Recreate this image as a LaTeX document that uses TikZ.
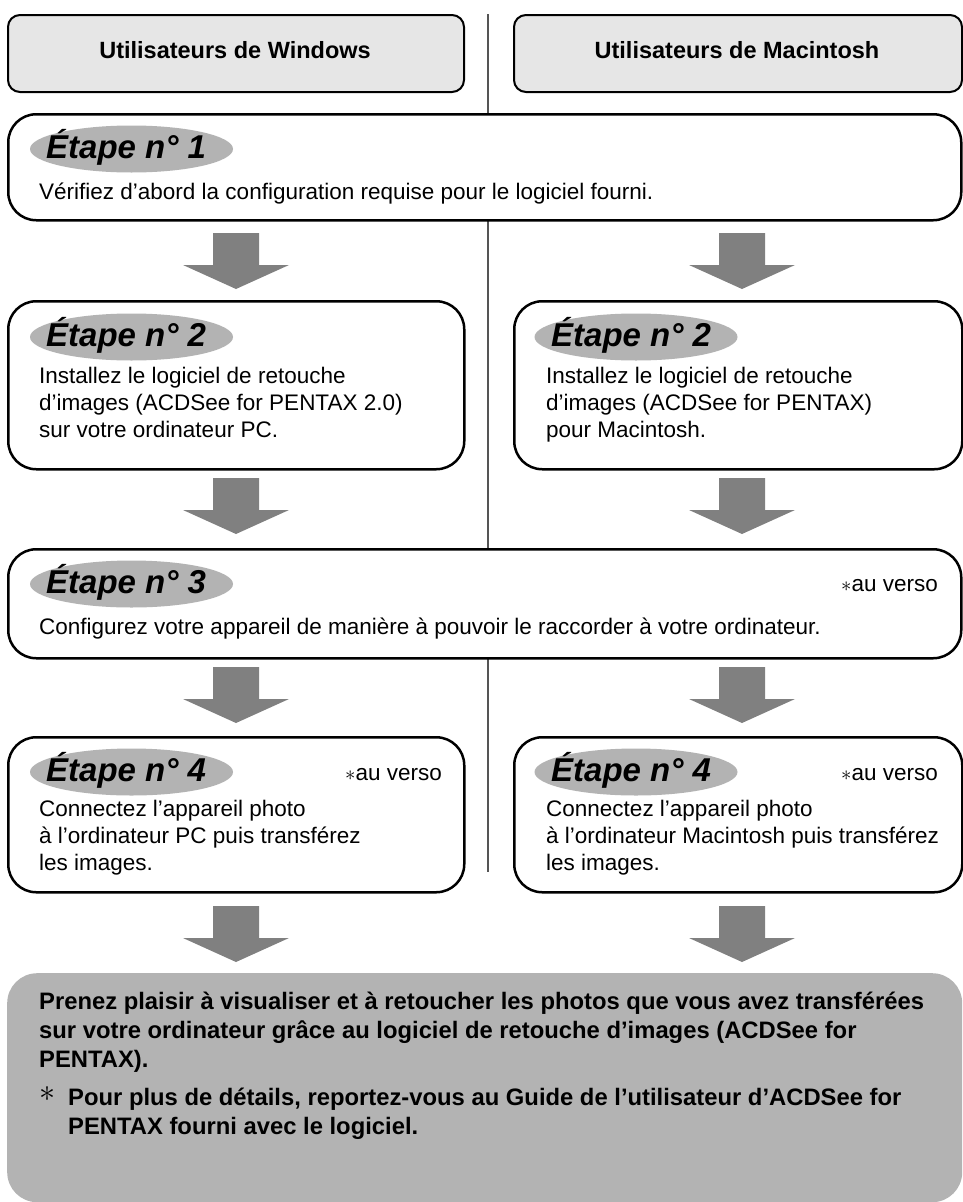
\documentclass[tikz,border=0pt]{standalone}
\usepackage{fontspec}
\setmainfont{Liberation Sans}
\usetikzlibrary{shapes.geometric}
\definecolor{hdrgray}{HTML}{E6E6E6}
\definecolor{pillgray}{HTML}{B3B3B3}
\definecolor{arrgray}{HTML}{808080}
\definecolor{endgray}{HTML}{B3B3B3}
\definecolor{linegray}{HTML}{555555}
\begin{document}
\begin{tikzpicture}[x=1pt,y=-1pt,
  hdr/.style={draw=black, line width=2pt, fill=hdrgray, rounded corners=12pt, anchor=north west, inner sep=0pt},
  hdrtxt/.style={font=\fontsize{23.5}{28}\selectfont\bfseries, anchor=base, inner sep=0pt},
  stepbox/.style={draw=black, line width=2.5pt, fill=white, rounded corners=28pt, anchor=north west, inner sep=0pt},
  pill/.style={ellipse, fill=pillgray, minimum width=203pt, minimum height=47pt, inner sep=0pt},
  pilltxt/.style={font=\fontsize{33}{33}\selectfont\bfseries\itshape, anchor=base west, inner sep=0pt},
  body/.style={font=\fontsize{22.5}{27}\selectfont, anchor=base west, inner sep=0pt, align=left},
  verso/.style={font=\fontsize{22.5}{27}\selectfont, anchor=base east, inner sep=0pt},
  endbox/.style={fill=endgray, rounded corners=30pt, anchor=north west, inner sep=0pt},
  endtxt/.style={font=\fontsize{23.8}{29}\selectfont\bfseries, anchor=base west, inner sep=0pt, align=left},
  divider/.style={draw=linegray, line width=1.2pt},
  downarrow/.pic={\fill[arrgray] (-23,0) -- (23,0) -- (23,32) -- (53,32) -- (0,56) -- (-53,32) -- (-23,32) -- cycle;}
]
\useasboundingbox (0,0) rectangle (962,1202);
% divider
\coordinate (dtop) at (488,14);
\coordinate (dbot) at (488,872);
\draw[divider] (dtop) -- (dbot);
% headers
\node[hdr, minimum width=456pt, minimum height=77pt] (hw) at (7,14) {};
\node[hdr, minimum width=448pt, minimum height=77pt] (hm) at (513,14) {};
\node[hdrtxt] (hwt) at (235,58) {Utilisateurs de Windows};
\node[hdrtxt] (hmt) at (737,58) {Utilisateurs de Macintosh};
% step 1
\node[stepbox, minimum width=953pt, minimum height=106pt] (s1) at (7,113) {};
\node[pill] (p1) at (131.5,149) {};
\node[pilltxt] (p1t) at (46,158) {Étape n° 1};
\node[body] (s1t) at (39,199) {Vérifiez d’abord la configuration requise pour le logiciel fourni.};
% arrows 1
\pic at (236,233) {downarrow};
\pic at (742,233) {downarrow};
% step 2
\node[stepbox, minimum width=456pt, minimum height=168pt] (s2w) at (7,300) {};
\node[stepbox, minimum width=448pt, minimum height=168pt] (s2m) at (513,300) {};
\node[pill] (p2w) at (131.5,337) {};
\node[pilltxt] (p2wt) at (46,346) {Étape n° 2};
\node[pill] (p2m) at (636,337) {};
\node[pilltxt] (p2mt) at (551,346) {Étape n° 2};
\node[body] (s2wt) at (39,437) {Installez le logiciel de retouche\\d’images (ACDSee for PENTAX 2.0)\\sur votre ordinateur PC.};
\node[body] (s2mt) at (546,437) {Installez le logiciel de retouche\\d’images (ACDSee for PENTAX)\\pour Macintosh.};
% arrows 2
\pic at (236,478) {downarrow};
\pic at (742,478) {downarrow};
% step 3
\node[stepbox, minimum width=953pt, minimum height=109pt] (s3) at (7,548) {};
\node[pill] (p3) at (131.5,584) {};
\node[pilltxt] (p3t) at (46,593) {Étape n° 3};
\node[verso] (v3) at (938,591) {$\ast$au verso};
\node[body] (s3t) at (39,634) {Configurez votre appareil de manière à pouvoir le raccorder à votre ordinateur.};
% arrows 3
\pic at (236,667) {downarrow};
\pic at (742,667) {downarrow};
% step 4
\node[stepbox, minimum width=456pt, minimum height=155pt] (s4w) at (7,736) {};
\node[stepbox, minimum width=448pt, minimum height=155pt] (s4m) at (513,736) {};
\node[pill] (p4w) at (131.5,772) {};
\node[pilltxt] (p4wt) at (46,781) {Étape n° 4};
\node[verso] (v4w) at (442,780) {$\ast$au verso};
\node[pill] (p4m) at (636,772) {};
\node[pilltxt] (p4mt) at (551,781) {Étape n° 4};
\node[verso] (v4m) at (938,780) {$\ast$au verso};
\node[body] (s4wt) at (39,870) {Connectez l’appareil photo\\à l’ordinateur PC puis transférez\\les images.};
\node[body] (s4mt) at (546,870) {Connectez l’appareil photo\\à l’ordinateur Macintosh puis transférez\\les images.};
% arrows 4
\pic at (236,906) {downarrow};
\pic at (742,906) {downarrow};
% final box
\node[endbox, minimum width=955pt, minimum height=229pt] (fin) at (7,973) {};
\node[endtxt] (fint) at (39,1067) {Prenez plaisir à visualiser et à retoucher les photos que vous avez transférées\\sur votre ordinateur grâce au logiciel de retouche d’images (ACDSee for\\PENTAX).};
\node[inner sep=0pt] (star) at (47.5,1094) {\scalebox{3.2}{$\ast$}};
\node[endtxt] (fnote) at (68,1134) {Pour plus de détails, reportez-vous au Guide de l’utilisateur d’ACDSee for\\PENTAX fourni avec le logiciel.};
\end{tikzpicture}
\end{document}
